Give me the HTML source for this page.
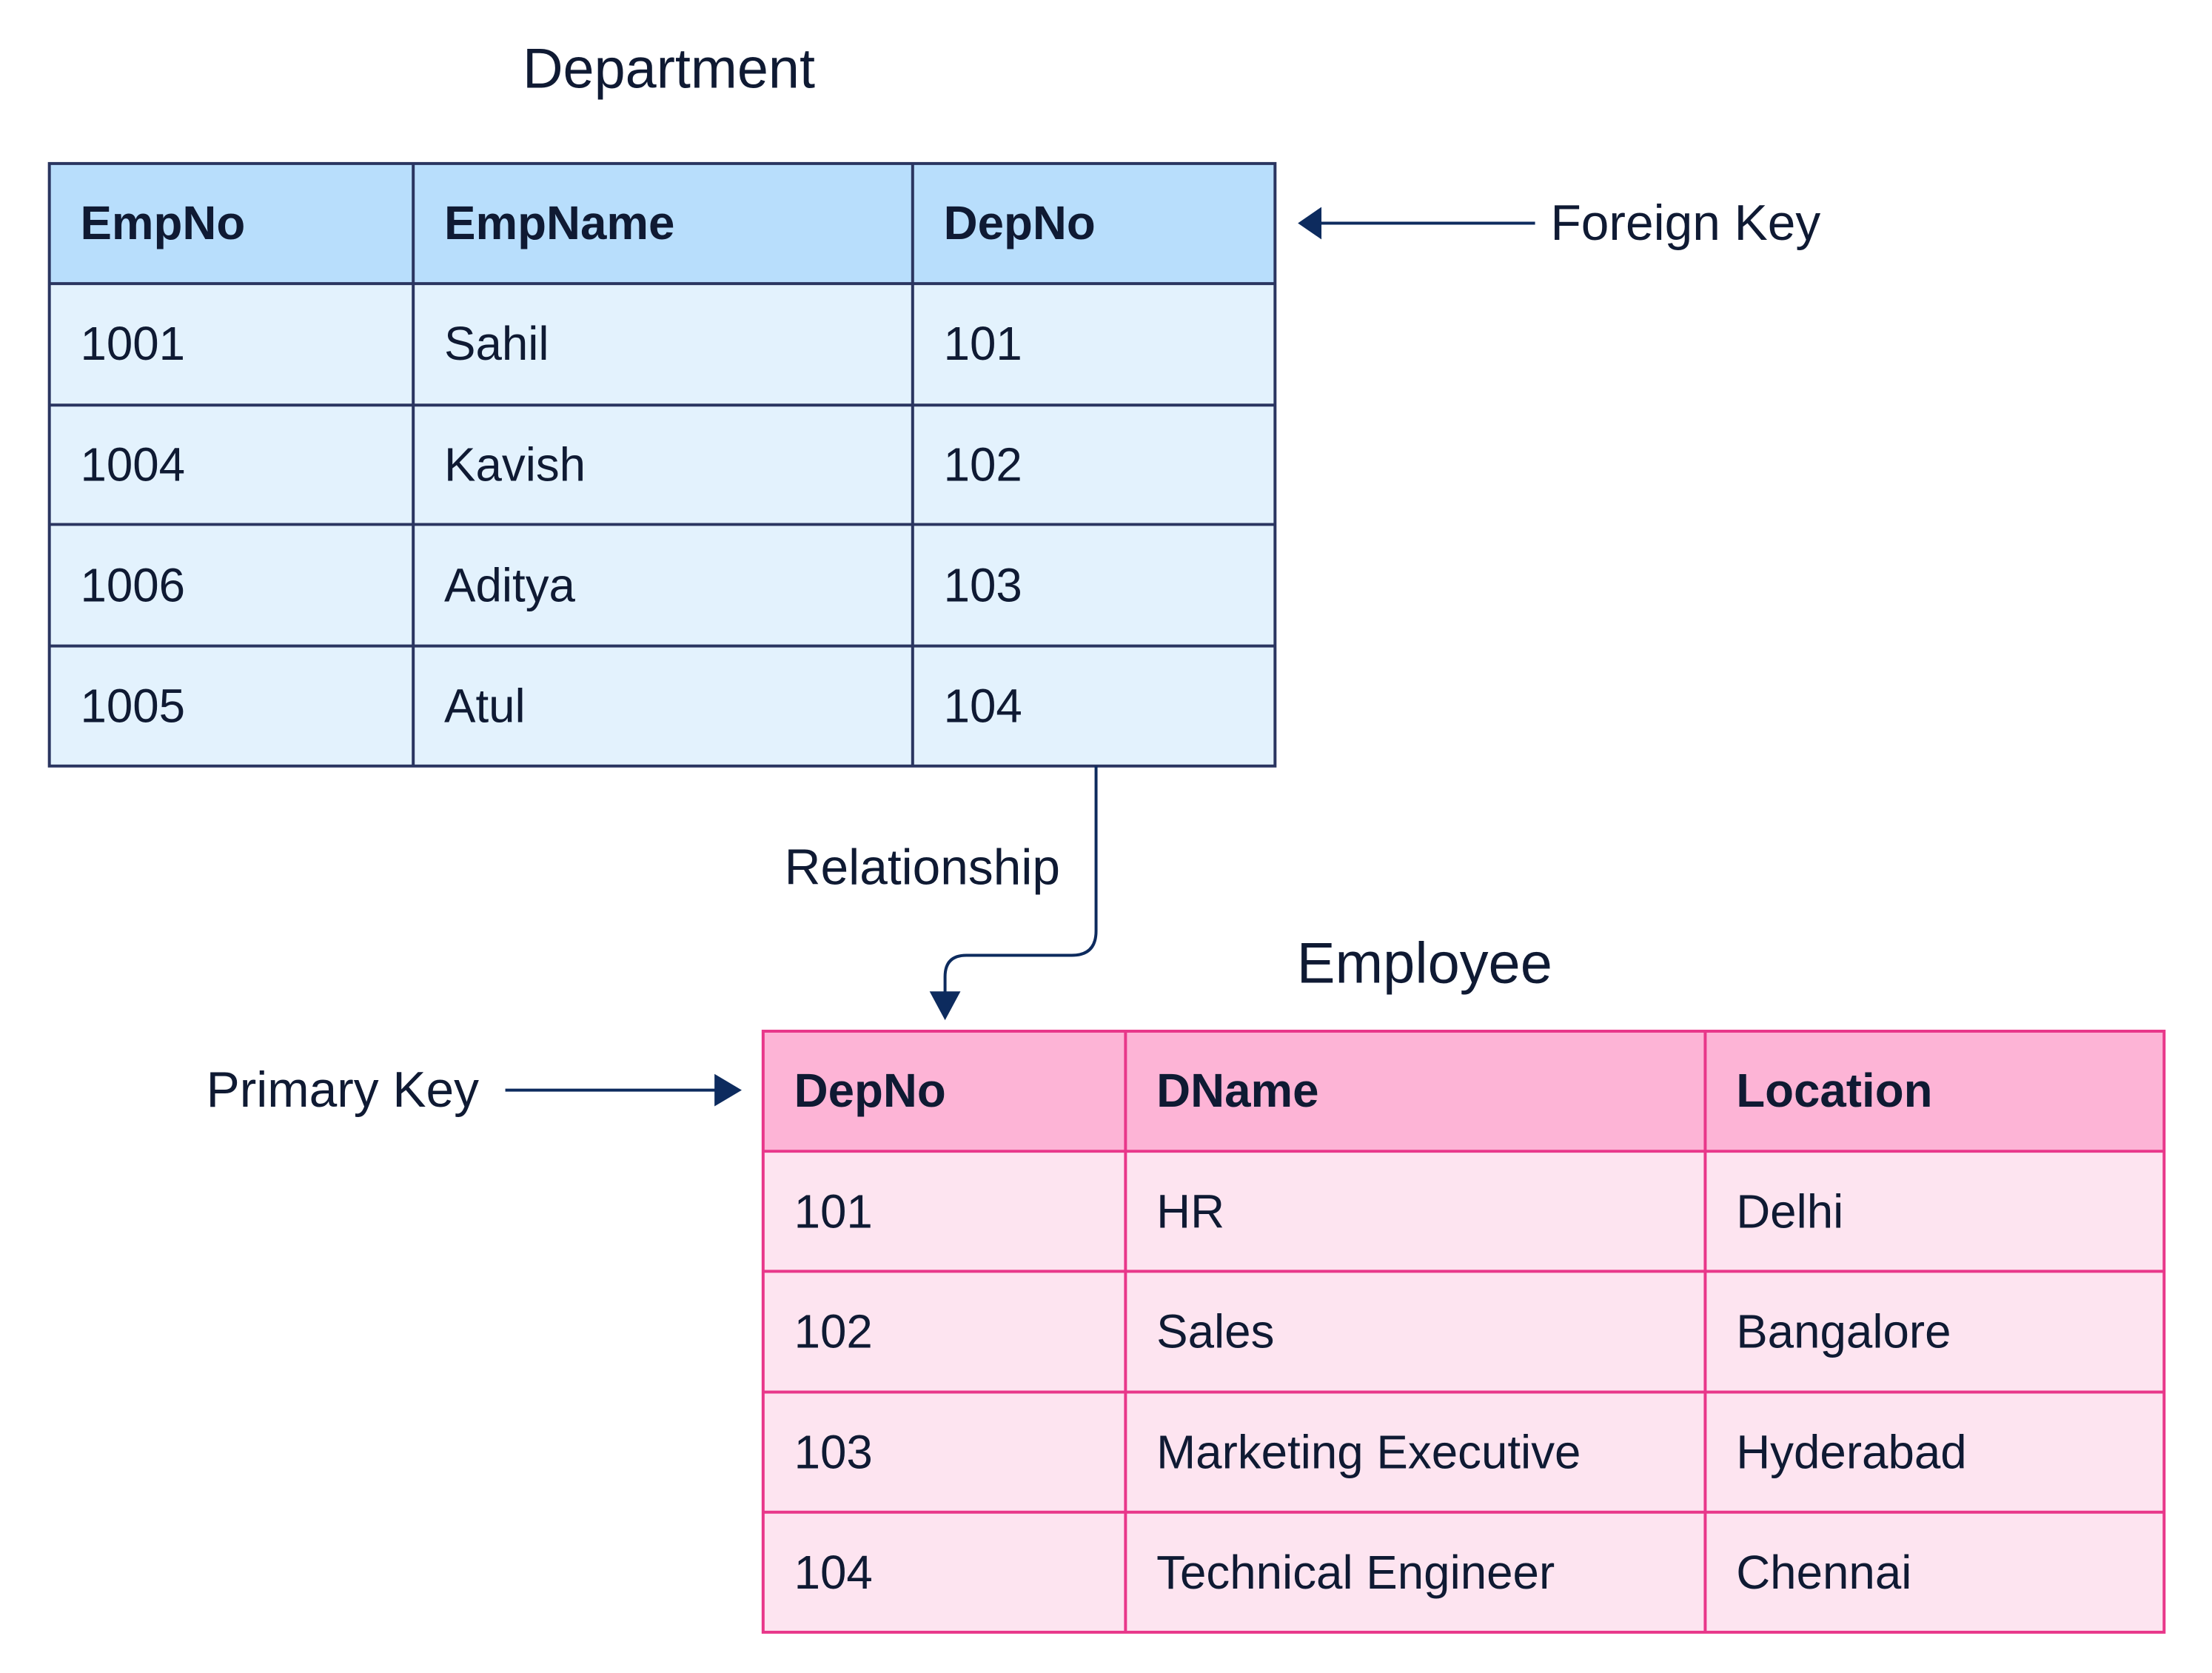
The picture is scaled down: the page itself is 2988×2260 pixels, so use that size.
<!DOCTYPE html>
<html><head><meta charset="utf-8"><style>
html,body{margin:0;padding:0;background:#fff;}
svg{display:block;}
text{font-family:"Liberation Sans",sans-serif;fill:#0f1a33;dominant-baseline:central;}
</style></head><body>
<svg width="2988" height="2260" viewBox="0 0 2988 2260" xmlns="http://www.w3.org/2000/svg">
<g transform="scale(0.995)">
<!-- Department table -->
<rect x="67" y="222" width="1664" height="163" fill="#b8defc"/>
<rect x="67" y="385" width="1664" height="655" fill="#e3f2fd"/>
<g stroke="#2a3560" stroke-width="4" fill="none">
<rect x="67" y="222" width="1664" height="818"/>
<line x1="561" y1="222" x2="561" y2="1040"/>
<line x1="1239" y1="222" x2="1239" y2="1040"/>
<line x1="67" y1="385" x2="1731" y2="385"/>
<line x1="67" y1="550" x2="1731" y2="550"/>
<line x1="67" y1="712" x2="1731" y2="712"/>
<line x1="67" y1="877" x2="1731" y2="877"/>
</g>
<text x="908" y="94" font-size="76" text-anchor="middle">Department</text>
<g font-size="64">
<text x="109" y="303" font-weight="bold">EmpNo</text>
<text x="603" y="303" font-weight="bold">EmpName</text>
<text x="1281" y="303" font-weight="bold">DepNo</text>
<text x="109" y="467">1001</text><text x="603" y="467">Sahil</text><text x="1281" y="467">101</text>
<text x="109" y="631">1004</text><text x="603" y="631">Kavish</text><text x="1281" y="631">102</text>
<text x="109" y="795">1006</text><text x="603" y="795">Aditya</text><text x="1281" y="795">103</text>
<text x="109" y="959">1005</text><text x="603" y="959">Atul</text><text x="1281" y="959">104</text>
</g>
<!-- Foreign key arrow -->
<line x1="1790" y1="303" x2="2084" y2="303" stroke="#0d2b5e" stroke-width="4"/>
<polygon points="1762,303 1794,281 1794,325" fill="#0d2b5e"/>
<text x="2105" y="303" font-size="68">Foreign Key</text>
<!-- Relationship connector -->
<path d="M1488 1040 V1264 Q1488 1297 1455 1297 H1312 Q1283 1297 1283 1326 V1350" stroke="#0d2b5e" stroke-width="4" fill="none"/>
<polygon points="1283,1385 1262,1346 1304,1346" fill="#0d2b5e"/>
<text x="1065" y="1178" font-size="68">Relationship</text>
<!-- Employee table -->
<text x="1934" y="1308" font-size="78" text-anchor="middle">Employee</text>
<rect x="1036" y="1400" width="1902" height="163" fill="#fdb4d6"/>
<rect x="1036" y="1563" width="1902" height="653" fill="#fde4f0"/>
<g stroke="#e8378a" stroke-width="4" fill="none">
<rect x="1036" y="1400" width="1902" height="816"/>
<line x1="1528" y1="1400" x2="1528" y2="2216"/>
<line x1="2315" y1="1400" x2="2315" y2="2216"/>
<line x1="1036" y1="1563" x2="2938" y2="1563"/>
<line x1="1036" y1="1726" x2="2938" y2="1726"/>
<line x1="1036" y1="1890" x2="2938" y2="1890"/>
<line x1="1036" y1="2053" x2="2938" y2="2053"/>
</g>
<g font-size="64">
<text x="1078" y="1481" font-weight="bold">DepNo</text>
<text x="1570" y="1481" font-weight="bold">DName</text>
<text x="2357" y="1481" font-weight="bold">Location</text>
<text x="1078" y="1645">101</text><text x="1570" y="1645">HR</text><text x="2357" y="1645">Delhi</text>
<text x="1078" y="1808">102</text><text x="1570" y="1808">Sales</text><text x="2357" y="1808">Bangalore</text>
<text x="1078" y="1972">103</text><text x="1570" y="1972">Marketing Executive</text><text x="2357" y="1972">Hyderabad</text>
<text x="1078" y="2135">104</text><text x="1570" y="2135">Technical Engineer</text><text x="2357" y="2135">Chennai</text>
</g>
<!-- Primary key arrow -->
<text x="280" y="1480" font-size="68">Primary Key</text>
<line x1="686" y1="1480" x2="975" y2="1480" stroke="#0d2b5e" stroke-width="4"/>
<polygon points="1007,1480 970,1458 970,1502" fill="#0d2b5e"/>
</g>
</svg>
</body></html>
